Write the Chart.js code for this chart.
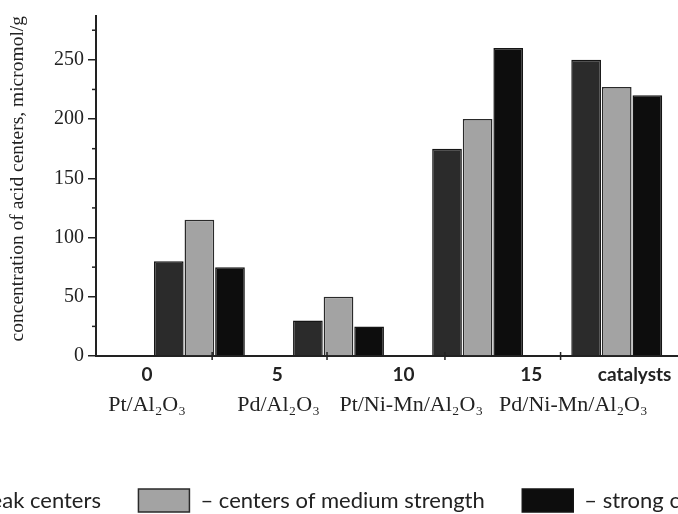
<!DOCTYPE html>
<html>
<head>
<meta charset="utf-8">
<script src="https://cdn.jsdelivr.net/npm/chart.js@4.4.1/dist/chart.umd.min.js"></script>
<style>
html, body { margin: 0; padding: 0; background: #fff; width: 678px; height: 514px; overflow: hidden; }
#wrap { position: absolute; left: -200px; top: 0; width: 1078px; height: 522px; }
</style>
</head>
<body>
<div id="wrap"><canvas id="c"></canvas></div>
<script>
// ---- data ----
const catalysts = ['Pt/Al₂O₃', 'Pd/Al₂O₃', 'Pt/Ni-Mn/Al₂O₃', 'Pd/Ni-Mn/Al₂O₃'];
const groupPos = [2.05, 7.5, 12.95, 18.4];          // where each catalyst group sits on the 0..15 axis
const catalystLabelPos = [0, 5.15, 10.35, 16.7];    // where the catalyst names are printed
const weakCenters = [80, 30, 175, 250];
const mediumCenters = [115, 50, 200, 227];
const strongCenters = [75, 25, 260, 220];
const seriesNames = ['– weak centers', '– centers of medium strength', '– strong centers'];
const xTickValues = [0, 5.1, 10.05, 15.05, 19.1];
const xTickLabels = ['0', '5', '10', '15', 'catalysts'];
const xMarkValues = [2.55, 7.05, 11.67, 16.2];
const yMinorValues = [25, 75, 125, 175, 225, 275];

const SERIF = "'Liberation Serif', 'Times New Roman', serif";
const SANS = "Lato, 'Open Sans', sans-serif";

const marksPlugin = {
  id: 'marks',
  afterDraw(chart) {
    const {ctx, chartArea} = chart;
    const ys = chart.scales.y, xs = chart.scales.x;
    ctx.save();
    ctx.strokeStyle = '#222';
    ctx.lineWidth = 1.5;
    yMinorValues.forEach(v => {
      const py = ys.getPixelForValue(v);
      ctx.beginPath(); ctx.moveTo(chartArea.left - 4, py); ctx.lineTo(chartArea.left, py); ctx.stroke();
    });
    xMarkValues.forEach(v => {
      const px = xs.getPixelForValue(v);
      ctx.beginPath(); ctx.moveTo(px, chartArea.bottom - 4); ctx.lineTo(px, chartArea.bottom + 4); ctx.stroke();
    });
    ctx.restore();
  }
};

const mk = (vals) => groupPos.map((x, i) => ({x: x, y: vals[i]}));

new Chart(document.getElementById('c'), {
  type: 'bar',
  data: {
    datasets: [
      {label: seriesNames[0], data: mk(weakCenters), backgroundColor: '#2b2b2b', borderColor: '#151515', borderWidth: 1.5, xAxisID: 'xb', yAxisID: 'y'},
      {label: seriesNames[1], data: mk(mediumCenters), backgroundColor: '#a3a3a3', borderColor: '#2a2a2a', borderWidth: 1.5, xAxisID: 'xb', yAxisID: 'y'},
      {label: seriesNames[2], data: mk(strongCenters), backgroundColor: '#0d0d0d', borderColor: '#151515', borderWidth: 1.5, xAxisID: 'xb', yAxisID: 'y'}
    ]
  },
  options: {
    responsive: true,
    maintainAspectRatio: false,
    animation: false,
    categoryPercentage: 0.66,
    barPercentage: 0.97,
    layout: {padding: {left: 55.6, right: 0, top: 15, bottom: 0}},
    plugins: {
      legend: {
        position: 'bottom',
        align: 'start',
        labels: {boxWidth: 51, boxHeight: 23, padding: 37.5, color: '#222', font: {family: SANS, size: 22}}
      },
      tooltip: {enabled: false}
    },
    scales: {
      xb: {
        type: 'linear', position: 'bottom', display: false, weight: 0, min: -2, max: 20.8,
        offset: false, grid: {offset: false},
        afterBuildTicks(s) { s.ticks = groupPos.map(v => ({value: v})); }
      },
      x: {
        type: 'linear', position: 'bottom', weight: 1, min: -2, max: 20.8, offset: false,
        afterBuildTicks(s) { s.ticks = xTickValues.map(v => ({value: v})); },
        ticks: {autoSkip: false, maxRotation: 0, padding: 7, color: '#222',
                font: {family: SANS, size: 19, weight: 'bold'},
                callback: (v, i) => xTickLabels[i]},
        grid: {display: false, drawTicks: false, offset: false},
        border: {display: true, color: '#222', width: 2},
        afterFit(s) { s.height = 30; }
      },
      xc: {
        type: 'linear', position: 'bottom', weight: 2, min: -2, max: 20.8, offset: false,
        afterBuildTicks(s) { s.ticks = catalystLabelPos.map(v => ({value: v})); },
        ticks: {autoSkip: false, maxRotation: 0, padding: 6, color: '#222',
                font: {family: SERIF, size: 22},
                callback: (v, i) => catalysts[i]},
        grid: {display: false, drawTicks: false, offset: false},
        border: {display: false},
        afterFit(s) { s.height = 65.5; }
      },
      y: {
        type: 'linear', position: 'left', min: 0, max: 287,
        ticks: {stepSize: 50, includeBounds: false, padding: 4, color: '#222', font: {family: SERIF, size: 20}},
        grid: {drawOnChartArea: false, drawTicks: true, tickLength: 8, color: '#222', lineWidth: 1.5},
        border: {display: true, color: '#222', width: 2},
        title: {display: true, align: 'end', text: 'concentration of acid centers, micromol/g', color: '#222',
                font: {family: SERIF, size: 19.5}, padding: {top: 150.7, bottom: 0}},
        afterFit(s) { s.width = 240.4; }
      },
      yR: {
        type: 'linear', position: 'right', display: true,
        grid: {display: false, drawTicks: false}, border: {display: false}, ticks: {display: false},
        afterFit(s) { s.width = 200; }
      }
    }
  },
  plugins: [marksPlugin]
});
</script>
</body>
</html>
